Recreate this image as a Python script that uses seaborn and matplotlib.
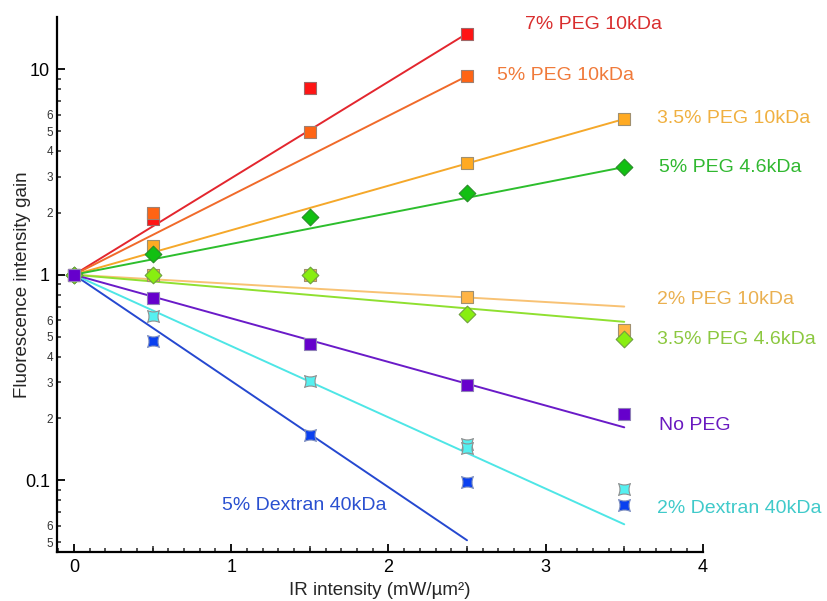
import numpy as np
import pandas as pd
import matplotlib
matplotlib.use("Agg")
import matplotlib.pyplot as plt
from matplotlib.path import Path
from matplotlib.ticker import FixedLocator, FuncFormatter, LogLocator, MultipleLocator
import seaborn as sns

# ---- measured fluorescence gain vs IR intensity -------------------------
series = [
    "7% PEG 10kDa", "5% PEG 10kDa", "3.5% PEG 10kDa", "5% PEG 4.6kDa",
    "2% PEG 10kDa", "3.5% PEG 4.6kDa", "5% Dextran 40kDa", "2% Dextran 40kDa",
    "No PEG",
]

x_peg7 = [0, 0.5, 1.5, 2.5]
y_peg7 = [1.0, 1.87, 8.1, 14.9]

x_peg5 = [0, 0.5, 1.5, 2.5]
y_peg5 = [1.0, 2.0, 4.94, 9.25]

x_peg35 = [0, 0.5, 2.5, 3.5]
y_peg35 = [1.0, 1.38, 3.5, 5.72]

x_peg5s = [0, 0.5, 1.5, 2.5, 3.5]
y_peg5s = [1.0, 1.26, 1.91, 2.5, 3.34]

x_peg2 = [0, 0.5, 1.5, 2.5, 3.5]
y_peg2 = [1.0, 1.0, 1.0, 0.78, 0.54]

x_peg35s = [0, 0.5, 1.5, 2.5, 3.5]
y_peg35s = [1.0, 1.0, 1.0, 0.647, 0.489]

x_dex5 = [0, 0.5, 1.5, 2.5, 3.5]
y_dex5 = [1.0, 0.474, 0.167, 0.098, 0.0756]

x_dex2 = [0, 0.5, 1.5, 2.5, 2.5, 3.5]
y_dex2 = [1.0, 0.632, 0.303, 0.150, 0.143, 0.0904]

x_nopeg = [0, 0.5, 1.5, 2.5, 3.5]
y_nopeg = [1.0, 0.773, 0.462, 0.292, 0.209]

# exponential fits through (0, 1): end point of each fitted line
fit_end_x = [2.5, 2.5, 3.5, 3.5, 3.5, 3.5, 2.5, 3.5, 3.5]
fit_end_gain = [14.9, 9.25, 5.72, 3.34, 0.70, 0.59, 0.0511, 0.0611, 0.181]

xs = [x_peg7, x_peg5, x_peg35, x_peg5s, x_peg2, x_peg35s, x_dex5, x_dex2, x_nopeg]
ys = [y_peg7, y_peg5, y_peg35, y_peg5s, y_peg2, y_peg35s, y_dex5, y_dex2, y_nopeg]

# ---- styling ---------------------------------------------------------------
line_colors = ["#E3262E", "#F06A2A", "#F5A82A", "#2DBE2D", "#F8C274",
               "#8FE030", "#2548D0", "#4EE6E6", "#6A1BC8"]
marker_colors = ["#FF1414", "#FF6414", "#FFAA22", "#12C012", "#FFB445",
                 "#88EE10", "#0A40F0", "#55F0F0", "#6600CC"]
edge_colors = ["#A06868", "#A08070", "#A09070", "#2A8A2A", "#A09070",
               "#70A040", "#8090C0", "#909090", "#9080B8"]
text_colors = ["#D92E2E", "#F07A3A", "#F0B040", "#30B830", "#EAB050",
               "#8CC840", "#2A50D0", "#40CACA", "#6A1AC0"]

# square with concave sides, used for the dextran samples
d = 0.5
astroid = Path(
    [(-1, -1), (0, -d), (1, -1), (d, 0), (1, 1), (0, d), (-1, 1), (-d, 0), (-1, -1), (-1, -1)],
    [Path.MOVETO, Path.CURVE3, Path.CURVE3, Path.CURVE3, Path.CURVE3,
     Path.CURVE3, Path.CURVE3, Path.CURVE3, Path.CURVE3, Path.CLOSEPOLY],
)
markers = ["s", "s", "s", "D", "s", "D", astroid, astroid, "s"]
marker_sizes = [70, 70, 70, 72, 70, 72, 74, 74, 70]

# label anchor for each series (data coordinates)
label_pos = [(2.87, 16.5), (2.69, 9.35), (3.71, 5.78), (3.72, 3.34), (3.71, 0.756),
             (3.71, 0.484), (0.94, 0.0756), (3.71, 0.0731), (3.72, 0.185)]

sns.set_theme(style="ticks")
plt.rcParams["font.family"] = ["Liberation Sans", "DejaVu Sans"]

fig = plt.figure(figsize=(8.27, 6.01), dpi=100)
ax = fig.add_axes([0.0689, 0.0815, 0.781, 0.890])

# fitted lines first, markers on top
for i, name in enumerate(series):
    fit = pd.DataFrame({"x": [0.0, fit_end_x[i]], "y": [1.0, fit_end_gain[i]]})
    sns.lineplot(data=fit, x="x", y="y", ax=ax, color=line_colors[i],
                 linewidth=1.4, legend=False, zorder=2)

for i, name in enumerate(series):
    pts = pd.DataFrame({"x": xs[i], "y": ys[i]})
    sns.scatterplot(data=pts, x="x", y="y", ax=ax, marker=markers[i],
                    s=marker_sizes[i], color=marker_colors[i],
                    edgecolor=edge_colors[i], linewidth=0.8, legend=False,
                    zorder=3 + i)
    ax.text(label_pos[i][0], label_pos[i][1], name, color=text_colors[i],
            fontsize=14, ha="left", va="center", clip_on=False)

ax.set_yscale("log")
ax.set_xlim(-0.108, 4.0)
ax.set_ylim(0.0448, 17.9)

ax.xaxis.set_major_locator(MultipleLocator(1))
ax.xaxis.set_minor_locator(MultipleLocator(0.1))
ax.yaxis.set_major_locator(FixedLocator([0.1, 1, 10]))
ax.yaxis.set_major_formatter(FuncFormatter(lambda v, p: f"{v:g}"))
ax.yaxis.set_minor_locator(LogLocator(base=10, subs=np.arange(2, 10), numticks=20))


def minor_label(v, pos):
    m = int(round(v / 10 ** np.floor(np.log10(v) + 1e-9)))
    return str(m) if 2 <= m <= 6 else ""


ax.yaxis.set_minor_formatter(FuncFormatter(minor_label))

ax.tick_params(which="major", direction="in", length=6, width=1.3,
               labelsize=13, pad=5, colors="black")
ax.tick_params(which="minor", direction="in", length=3.2, width=1.1,
               labelsize=8.5, pad=3)
ax.tick_params(axis="y", which="minor", labelcolor="#333333")

# half-unit ticks on the x axis are a little longer than the tenths
half = ax.secondary_xaxis("bottom")
half.set_xticks([0.5, 1.5, 2.5, 3.5])
half.tick_params(direction="in", length=4.3, width=1.1, labelbottom=False)
half.spines["bottom"].set_visible(False)

for side in ["top", "right"]:
    ax.spines[side].set_visible(False)
for side in ["left", "bottom"]:
    ax.spines[side].set_linewidth(1.6)
    ax.spines[side].set_color("black")

ax.set_xlabel("IR intensity (mW/µm²)", fontsize=13.5, labelpad=4)
ax.set_ylabel("Fluorescence intensity gain", fontsize=13.5, labelpad=-4)

fig.savefig("out.png", dpi=100)
